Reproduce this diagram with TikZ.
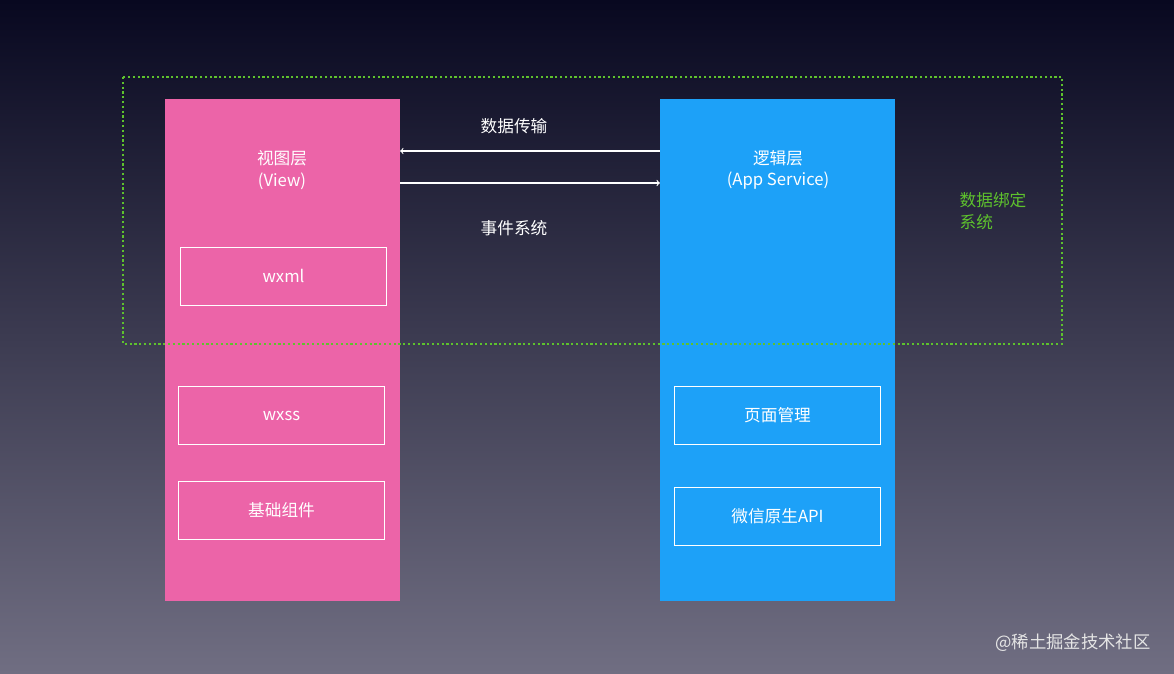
\documentclass[tikz,border=0pt]{standalone}
\usepackage{fontspec}
\setmainfont{Noto Sans CJK SC}
\usetikzlibrary{positioning}
\definecolor{viewpink}{HTML}{EC64A8}
\definecolor{logicblue}{HTML}{1DA1F8}
\definecolor{bindgreen}{HTML}{5EC22D}
\begin{document}
\begin{tikzpicture}[x=0.75pt,y=-0.75pt, every node/.style={font=\fontsize{12.5pt}{16pt}\selectfont, text=white}]
            \tikzset{layer/.style={draw=none, minimum width=176pt, minimum height=376.5pt},
                     part/.style={draw=white, line width=0.7pt, minimum width=155pt, minimum height=43.5pt}}
            % background
            \shade[top color={rgb,255:red,8;green,8;blue,32}, bottom color={rgb,255:red,112;green,110;blue,130}] (0,0) rectangle (1174,674);
            \useasboundingbox (0,0) rectangle (1174,674);
            
            % the two layers
            \node[layer, fill=viewpink] (view) at (282.5,350) {};
            \node[layer, fill=logicblue] (logic) at (777.5,350) {};
            \node[align=center] (viewtitle) at (282,170) {视图层\\(View)};
            \node[align=center] (logictitle) at (778,170) {逻辑层\\(App Service)};
            
            % parts of the view layer
            \node[part] (wxml) at (283.5,276) {wxml};
            \node[part] (wxss) at (281.5,415.5) {wxss};
            \node[part] (base) at (281.5,510) {基础组件};
            
            % parts of the logic layer
            \node[part] (pages) at (777.5,415.5) {页面管理};
            \node[part] (api) at (777.5,516) {微信原生API};
            
            % data binding
            \draw[bindgreen, line width=1.6pt, dotted] (123,77) rectangle (1062,344);
            \node[text=bindgreen, align=left, anchor=west] (bind) at (955,211) {数据绑定\\系统};
            
            % transfer and events
            \draw[->, white, line width=0.8pt] (logic.west |- 0,151) -- (view.east |- 0,151);
            \draw[->, white, line width=0.8pt] (view.east |- 0,183) -- (logic.west |- 0,183);
            \node (transfer) at (514,126) {数据传输};
            \node (events) at (514,228) {事件系统};
            
            \node[text=white!80!gray, font=\fontsize{13pt}{16pt}\selectfont] (mark) at (1073,643) {@稀土掘金技术社区};
            
        \end{tikzpicture}
\end{document}
